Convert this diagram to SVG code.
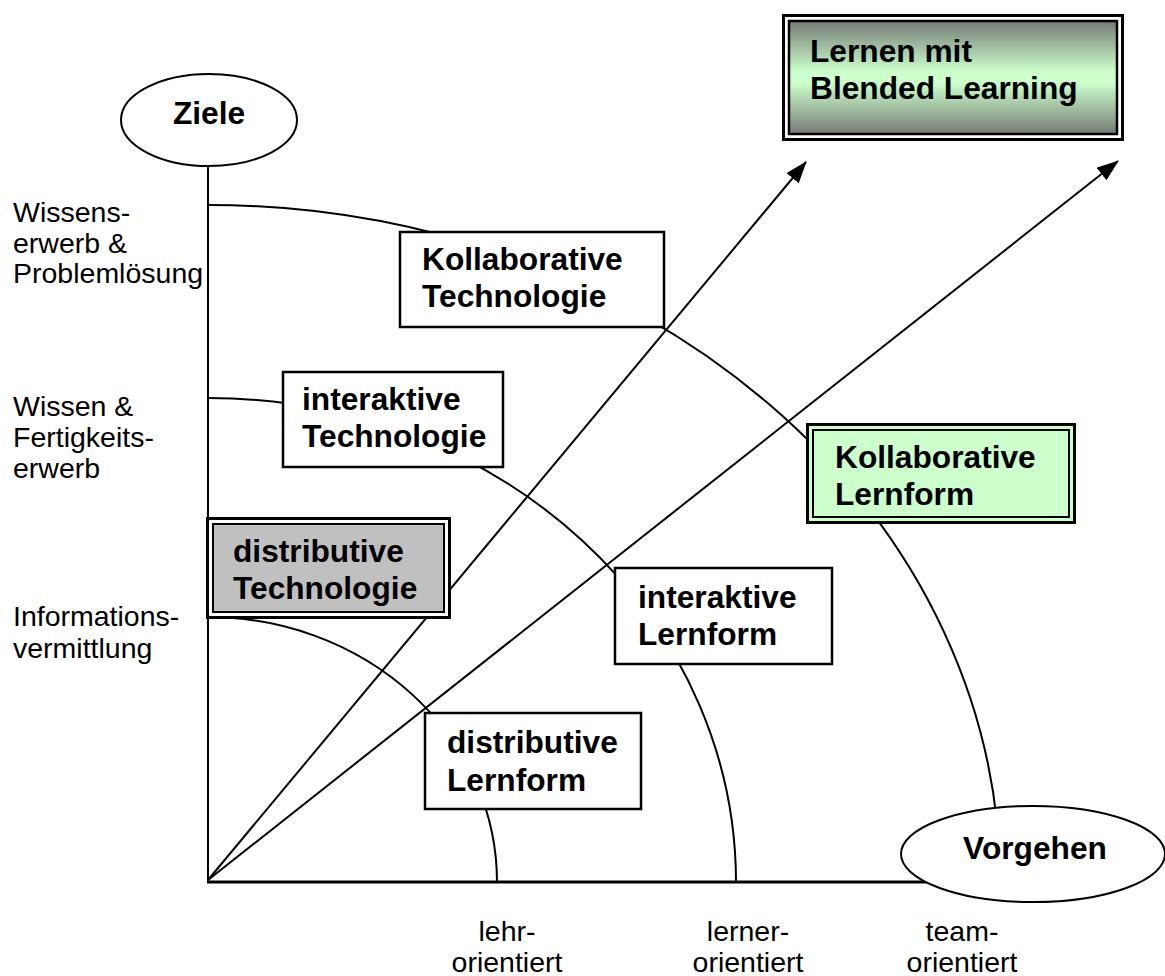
<svg xmlns="http://www.w3.org/2000/svg" width="1165" height="976" viewBox="0 0 1165 976">
<style>
.ln{stroke:#000;stroke-width:2;fill:none}
.ax{stroke:#000;fill:none}
.box{fill:#fff;stroke:#000;stroke-width:2.5}
.bt{font-family:"Liberation Sans",Arial,sans-serif;font-weight:bold;font-size:31.7px;fill:#000}
.lt{font-family:"Liberation Sans",Arial,sans-serif;font-size:28.5px;fill:#000}
.ell{fill:#fff;stroke:#000;stroke-width:2}
</style>
<defs>
<marker id="ah" markerUnits="userSpaceOnUse" markerWidth="22" markerHeight="16" viewBox="0 0 22 16" refX="21" refY="8" orient="auto">
<path d="M0,0 L22,8 L0,16 z" fill="#000"/>
</marker>
<linearGradient id="gr" x1="0" y1="0" x2="0" y2="1">
<stop offset="0" stop-color="#767a76"/>
<stop offset="0.45" stop-color="#ccffcc"/>
<stop offset="0.55" stop-color="#ccffcc"/>
<stop offset="1" stop-color="#767a76"/>
</linearGradient>
</defs>
<rect width="1165" height="976" fill="#fff"/>
<g id="labels">
<text class="lt" x="13" y="222">Wissens-</text>
<text class="lt" x="13" y="253">erwerb &amp;</text>
<text class="lt" x="13" y="283">Problemlösung</text>
<text class="lt" x="13" y="416">Wissen &amp;</text>
<text class="lt" x="13" y="447">Fertigkeits-</text>
<text class="lt" x="13" y="478">erwerb</text>
<text class="lt" x="13" y="626">Informations-</text>
<text class="lt" x="13" y="658">vermittlung</text>
<text class="lt" x="507" y="941" text-anchor="middle">lehr-</text>
<text class="lt" x="507" y="972" text-anchor="middle">orientiert</text>
<text class="lt" x="748" y="941" text-anchor="middle">lerner-</text>
<text class="lt" x="748" y="972" text-anchor="middle">orientiert</text>
<text class="lt" x="962" y="941" text-anchor="middle">team-</text>
<text class="lt" x="962" y="972" text-anchor="middle">orientiert</text>
</g>
<g id="connectors">
<line class="ax" x1="208" y1="150" x2="208" y2="883" stroke-width="2"/>
<line class="ax" x1="207" y1="882" x2="1000" y2="882" stroke-width="3"/>
<path class="ln" d="M208,205 A792,677 0 0 1 1000,882"/>
<path class="ln" d="M208,398 A528,484 0 0 1 736,882"/>
<path class="ln" d="M208,617 A289,265 0 0 1 497,882"/>
<line class="ln" x1="208" y1="880" x2="806" y2="162" marker-end="url(#ah)"/>
<line class="ln" x1="208" y1="880" x2="1118" y2="161" marker-end="url(#ah)"/>
</g>
<g id="kollab-tech">
<rect class="box" x="400" y="232" width="264" height="95"/>
<text class="bt" x="422" y="270">Kollaborative</text>
<text class="bt" x="422" y="307">Technologie</text>
</g>
<g id="inter-tech">
<rect class="box" x="283" y="372" width="220" height="95"/>
<text class="bt" x="302" y="410">interaktive</text>
<text class="bt" x="302" y="447">Technologie</text>
</g>
<g id="distr-tech">
<rect x="207.5" y="518.5" width="242" height="99" fill="#fff" stroke="#000" stroke-width="3"/>
<rect x="213" y="524" width="231" height="88" fill="#c0c0c0" stroke="#000" stroke-width="2"/>
<text class="bt" x="233" y="562">distributive</text>
<text class="bt" x="233" y="599">Technologie</text>
</g>
<g id="inter-lern">
<rect class="box" x="615" y="568" width="217" height="96"/>
<text class="bt" x="638" y="608">interaktive</text>
<text class="bt" x="638" y="645">Lernform</text>
</g>
<g id="kollab-lern">
<rect x="807.5" y="424.5" width="267" height="98" fill="#ccffcc" stroke="#000" stroke-width="3"/>
<rect x="813" y="430" width="256" height="87" fill="#ccffcc" stroke="#000" stroke-width="2"/>
<text class="bt" x="835" y="468">Kollaborative</text>
<text class="bt" x="835" y="505">Lernform</text>
</g>
<g id="distr-lern">
<rect class="box" x="425" y="713" width="216" height="96"/>
<text class="bt" x="447" y="753">distributive</text>
<text class="bt" x="447" y="791">Lernform</text>
</g>
<g id="blended">
<rect x="783.5" y="15.5" width="339" height="124" fill="#fff" stroke="#000" stroke-width="3"/>
<rect x="789" y="21" width="328" height="113" fill="url(#gr)" stroke="#000" stroke-width="2.5"/>
<text class="bt" x="810" y="62">Lernen mit</text>
<text class="bt" x="810" y="99">Blended Learning</text>
</g>
<g id="ziele">
<ellipse class="ell" cx="209" cy="120" rx="88" ry="46"/>
<text class="bt" x="209" y="124" text-anchor="middle">Ziele</text>
</g>
<g id="vorgehen">
<ellipse class="ell" cx="1033" cy="854" rx="132" ry="48"/>
<text class="bt" x="1035" y="859" text-anchor="middle">Vorgehen</text>
</g>
</svg>
